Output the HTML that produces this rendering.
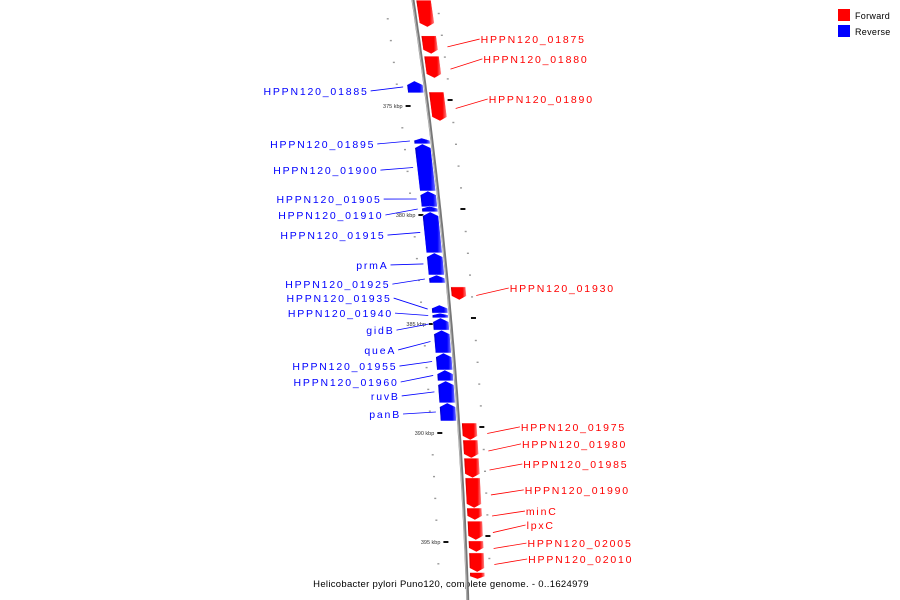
<!DOCTYPE html>
<html><head><meta charset="utf-8"><style>
html,body{margin:0;padding:0;background:#fff;}
svg{display:block;font-family:"Liberation Sans",sans-serif;}
</style></head><body>
<svg id="chart" width="900" height="600" viewBox="0 0 900 600">
<defs>
<linearGradient id="gf" x1="0" x2="1"><stop offset="0" stop-color="#c00000"/><stop offset="0.15" stop-color="#ff0000"/><stop offset="0.75" stop-color="#f00"/><stop offset="1" stop-color="#ff9090"/></linearGradient>
<linearGradient id="gr" x1="0" x2="1"><stop offset="0" stop-color="#0000b0"/><stop offset="0.15" stop-color="#0000ff"/><stop offset="0.75" stop-color="#00f"/><stop offset="1" stop-color="#8080ff"/></linearGradient>
</defs>
<g id="legend">
<rect x="838" y="9" width="12" height="12" fill="#f00"/>
<text x="855" y="19" font-size="9" letter-spacing="0.3" fill="#000">Forward</text>
<rect x="838" y="25" width="12" height="12" fill="#00f"/>
<text x="855" y="35" font-size="9" letter-spacing="0.3" fill="#000">Reverse</text>
</g>
<text x="451" y="587" font-size="9.5" text-anchor="middle" letter-spacing="0.3" fill="#000">Helicobacter pylori Puno120, complete genome. - 0..1624979</text>
</svg>
<script>
const geneStarts = [370.14,371.78,372.71,374.36,383.30,389.54,390.32,391.15,392.06,393.44,394.04,394.95,395.50,396.40,
  373.85,376.47,376.74,378.90,379.59,379.86,381.74,382.75,384.13,384.50,384.72,385.28,386.33,387.11,387.61,388.62];
const geneEnds = [371.38,372.61,373.72,375.69,383.90,390.32,391.15,392.06,393.44,393.99,394.91,395.46,396.38,396.70,
  374.40,376.74,378.90,379.63,379.86,381.74,382.75,383.12,384.50,384.72,385.28,386.33,387.11,387.61,388.62,389.45];
const geneStrands = ["+","+","+","+","+","+","+","+","+","+","+","+","+","+",
  "-","-","-","-","-","-","-","-","-","-","-","-","-","-","-","-"];
const geneLabels = ["","HPPN120_01875","HPPN120_01880","HPPN120_01890","HPPN120_01930","HPPN120_01975","HPPN120_01980","HPPN120_01985","HPPN120_01990","minC","lpxC","HPPN120_02005","HPPN120_02010","",
  "HPPN120_01885","HPPN120_01895","HPPN120_01900","HPPN120_01905","HPPN120_01910","HPPN120_01915","prmA","HPPN120_01925","HPPN120_01935","HPPN120_01940","gidB","queA","HPPN120_01955","HPPN120_01960","ruvB","panB"];
const labelPositions = [0,371.93,372.84,374.68,383.35,389.72,390.50,391.42,392.61,393.58,394.22,395.05,395.78,0,
  374.31,376.74,377.94,379.27,380.00,380.92,382.29,383.17,383.81,384.50,385.28,386.19,386.93,387.66,388.30,389.13];
const majorTicks = [375,380,385,390,395];
const majorTickLabels = ["375 kbp","380 kbp","385 kbp","390 kbp","395 kbp"];
const minorTicks = [370,371,372,373,374,376,377,378,379,381,382,383,384,386,387,388,389,391,392,393,394,396];

const NS="http://www.w3.org/2000/svg";
const svg=document.getElementById('chart');
function yScale(k){return 106+(k-375)*21.8;}
function lineX(y){return 413+0.1477*y-0.0000941*y*y;}
function mk(t,a){const e=document.createElementNS(NS,t);for(const k in a)e.setAttribute(k,a[k]);return e;}

let pts=[];for(let y=-5;y<=605;y+=5)pts.push(lineX(y).toFixed(1)+","+y);
const bb=mk('polyline',{points:pts.join(' '),fill:'none',stroke:'#777',"stroke-width":3});


svg.appendChild(bb);
pts=[];for(let y=-5;y<=605;y+=5)pts.push((lineX(y)-0.8).toFixed(1)+","+y);
const bb2=mk('polyline',{points:pts.join(' '),fill:'none',stroke:'#bbb',"stroke-width":1});


svg.appendChild(bb2);

minorTicks.forEach(k=>{
  const y=yScale(k);
  const d1=mk('rect',{x:lineX(y)-29,y:y-0.7,width:2,height:1.4,fill:'#999'});
  
  
  svg.appendChild(d1);
  const d2=mk('rect',{x:lineX(y)+22,y:y-6,width:2,height:1.4,fill:'#999'});
  
  
  svg.appendChild(d2);
});
majorTicks.forEach((k,i)=>{
  const y=yScale(k);const lx=lineX(y);
  const t1=mk('rect',{x:lx-22,y:y-1,width:5,height:2,fill:'#111'});
  
  
  svg.appendChild(t1);
  const t2=mk('rect',{x:lx+20,y:y-7,width:5,height:2,fill:'#111'});
  
  
  svg.appendChild(t2);
  const tx=mk('text',{x:lx-25,y:y+2,"font-size":5.5,"text-anchor":"end",fill:'#333'});
  tx.textContent=majorTickLabels[i];
  
  
  svg.appendChild(tx);
});

geneStarts.forEach((s,i)=>{
  const y0=yScale(s),y1=yScale(geneEnds[i]);
  const fwd=geneStrands[i]==="+";
  const off0=fwd?3:-18,off1=fwd?18:-2;
  const head=Math.min(4,(y1-y0)*0.4);
  let p;
  if(fwd){
    const yh=y1-head,ym=y1;
    p=[[lineX(y0)+off0,y0],[lineX(y0)+off1,y0],[lineX(yh)+off1,yh],[lineX(ym)+(off0+off1)/2,ym],[lineX(yh)+off0,yh]];
  }else{
    const yh=y0+head;
    p=[[lineX(y0)+(off0+off1)/2,y0],[lineX(yh)+off1,yh],[lineX(y1)+off1,y1],[lineX(y1)+off0,y1],[lineX(yh)+off0,yh]];
  }
  const g=mk('polygon',{points:p.map(q=>q[0].toFixed(1)+","+q[1].toFixed(1)).join(' '),fill:fwd?'url(#gf)':'url(#gr)',stroke:'#fff',"stroke-width":0.5});
  
  
  svg.appendChild(g);
  const lab=geneLabels[i];
  if(!lab)return;
  const ly=yScale(labelPositions[i]);
  const gy=(y0+y1)/2;
  const col=fwd?'#f00':'#00f';
  let t,ln;
  if(fwd){
    const lx=lineX(ly)+62;
    ln=mk('line',{x1:lineX(gy)+28,y1:gy+2,x2:lx-1,y2:ly,stroke:col,"stroke-width":0.8});
    t=mk('text',{x:lx,y:ly+4,"font-size":10.5,"letter-spacing":1.8,fill:col});
  }else{
    const lx=lineX(ly)-57;
    ln=mk('line',{x1:lx+2,y1:ly,x2:lineX(gy)-22,y2:gy,stroke:col,"stroke-width":0.8});
    t=mk('text',{x:lx,y:ly+4,"font-size":10.5,"letter-spacing":1.8,"text-anchor":"end",fill:col});
  }
  
  
  svg.appendChild(ln);
  t.textContent=lab;
  
  
  svg.appendChild(t);
});
</script>
</body></html>
